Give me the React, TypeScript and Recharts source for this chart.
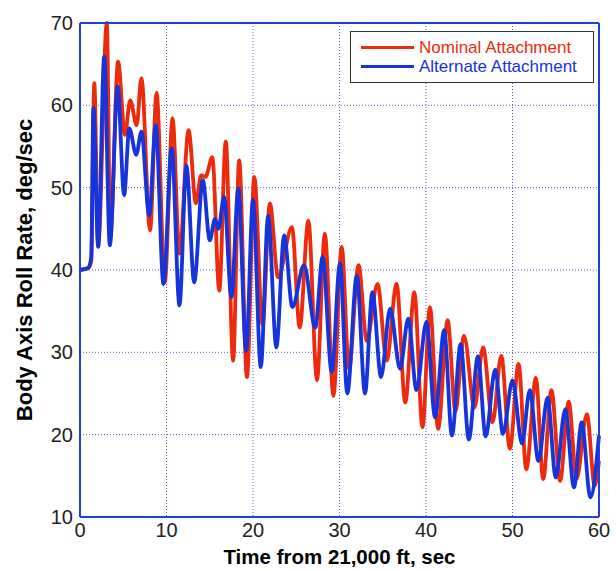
import React from 'react';
import { LineChart, Line, XAxis, YAxis, CartesianGrid, Legend, ReferenceLine } from 'recharts';

// peaks and troughs, time in sec
const nominalTime = [0, 0.9, 1.3, 1.65, 2.1, 3.1, 3.5, 4.4, 5.2, 5.8, 6.55, 7.1, 8.1, 8.85, 9.8, 10.7, 11.5, 12.55, 13.4, 14.0, 14.5, 15.3, 16.1, 16.85, 17.7, 18.4, 19.3, 20.15, 21.1, 21.95, 22.9, 24.5, 25.4, 26.4, 27.4, 28.3, 29.3, 30.25, 31.1, 32.2, 33.15, 34.4, 35.45, 36.6, 37.6, 38.65, 39.6, 40.45, 41.4, 42.5, 43.4, 44.4, 45.6, 46.6, 47.7, 48.7, 49.7, 50.7, 51.6, 52.7, 53.55, 54.5, 55.5, 56.5, 57.4, 58.6, 59.5, 60];
const nominalRate = [40, 40.2, 41, 62.7, 43, 70, 43.9, 65.3, 56.4, 60.6, 57.6, 63.3, 44.8, 61.5, 38.5, 58.4, 42, 57, 48.1, 51.5, 51.3, 53.7, 37.5, 55.6, 29, 53.3, 27, 51.3, 33.3, 48.1, 39.1, 45.2, 33, 46, 26.6, 44.4, 24.7, 42.8, 28, 40.6, 31.4, 38.3, 29, 38.3, 23.9, 37.3, 20.9, 35.5, 20.7, 33.9, 22.9, 32, 23.3, 30.6, 21.5, 29.6, 18.3, 28.6, 15.8, 26.9, 14.6, 25.4, 14.4, 24, 14.6, 22.5, 13.8, 16.8];

const alternateTime = [0, 0.9, 1.3, 1.55, 2.1, 2.8, 3.45, 4.35, 5.1, 5.7, 6.5, 7.1, 8.0, 8.75, 9.65, 10.6, 11.5, 12.3, 13.2, 14.2, 15.0, 15.6, 16.0, 16.65, 17.5, 18.3, 19.2, 20.0, 20.9, 21.75, 22.7, 23.6, 24.55, 25.9, 27.2, 28.05, 29.1, 30.05, 30.9, 32.0, 32.95, 33.8, 34.8, 35.85, 37.0, 37.95, 38.9, 40.05, 41.05, 42.1, 43.0, 44.0, 44.95, 46.0, 46.9, 48.0, 48.9, 50.0, 51.1, 52.0, 53.0, 54.05, 55.0, 56.1, 57.1, 58.0, 59.0, 60];
const alternateRate = [40, 40.2, 41.5, 59.7, 42.8, 65.9, 43, 62.3, 49.1, 57.2, 54, 56.8, 46.6, 57.6, 38.3, 54.8, 35.7, 52.7, 38.5, 50.9, 43.6, 46.2, 45, 48.9, 36.7, 49.9, 30.2, 48.5, 28.2, 46.6, 30.6, 44.2, 35.5, 40.6, 33, 41.6, 27.6, 40.8, 25, 39.3, 25, 37.3, 27, 35.3, 28, 34.1, 25.4, 33.7, 22.1, 32.7, 19.9, 31, 19.4, 29.5, 19.8, 27.9, 20.1, 26.6, 18.9, 25.4, 16.8, 24.5, 14.8, 23.1, 13.6, 21.5, 12.4, 19.9];

const seriesNames = ['Nominal Attachment', 'Alternate Attachment'];
const xTicks = [0, 10, 20, 30, 40, 50, 60];
const yTicks = [10, 20, 30, 40, 50, 60, 70];

const nominal = nominalTime.map((t, i) => ({ t, rate: nominalRate[i] }));
const alternate = alternateTime.map((t, i) => ({ t, rate: alternateRate[i] }));

const RED = '#ee2a0c';
const BLUE = '#1634dc';
const FRAME = '#1f3fe0';
const FONT = 'Arial, "Liberation Sans", Helvetica, sans-serif';

const renderLegend = (props: any) => {
  const items = seriesNames
    .map((n) => (props.payload || []).find((p: any) => p.value === n))
    .filter(Boolean);
  return (
    <div style={{
      border: '1px solid #333',
      background: '#fff',
      padding: '6px 0 6px 10px',
      fontFamily: FONT,
      fontSize: 17,
      lineHeight: '19px',
      boxSizing: 'border-box',
      width: 244,
    }}>
      {items.map((entry: any) => (
        <div key={entry.value} style={{ display: 'flex', alignItems: 'center', color: entry.color }}>
          <span style={{ display: 'inline-block', width: 53, height: 3, background: entry.color, marginRight: 5 }} />
          {entry.value}
        </div>
      ))}
    </div>
  );
};

export default function App() {
  return (
    <div style={{ position: 'absolute', left: 0, top: 0, background: '#fff' }}>
      <LineChart width={616} height={571} margin={{ top: 23, right: 17, bottom: 0, left: 0 }}>
        <CartesianGrid stroke="#5a5af0" strokeDasharray="1 2" strokeWidth={1} />
        <XAxis
          type="number"
          dataKey="t"
          domain={[0, 60]}
          ticks={xTicks}
          height={54}
          axisLine={false}
          tickLine={false}
          tickSize={0}
          tickMargin={6}
          tick={{ fill: '#222', fontSize: 20, fontFamily: FONT }}
          label={{ value: 'Time from 21,000 ft, sec', position: 'center', dy: 13, fill: '#000', fontSize: 20.5, fontWeight: 'bold', fontFamily: FONT }}
        />
        <YAxis
          type="number"
          domain={[10, 70]}
          ticks={yTicks}
          width={80}
          axisLine={false}
          tickLine={false}
          tickSize={0}
          tickMargin={7}
          tick={{ fill: '#222', fontSize: 20, fontFamily: FONT }}
          label={{ value: 'Body Axis Roll Rate, deg/sec', angle: -90, position: 'center', dx: -16, fill: '#000', fontSize: 22, fontWeight: 'bold', fontFamily: FONT }}
        />
        <Line data={nominal} dataKey="rate" name={seriesNames[0]} type="monotone" stroke={RED} strokeWidth={3.8} dot={false} isAnimationActive={false} />
        <Line data={alternate} dataKey="rate" name={seriesNames[1]} type="monotone" stroke={BLUE} strokeWidth={3.8} dot={false} isAnimationActive={false} />
        {/* plot frame */}
        <ReferenceLine x={0} stroke={FRAME} strokeWidth={2} ifOverflow="visible" />
        <ReferenceLine x={60} stroke={FRAME} strokeWidth={2} ifOverflow="visible" />
        <ReferenceLine y={10} stroke={FRAME} strokeWidth={2} ifOverflow="visible" />
        <ReferenceLine y={70} stroke={FRAME} strokeWidth={2} ifOverflow="visible" />
        <Legend layout="vertical" verticalAlign="middle" align="center" content={renderLegend} wrapperStyle={{ top: 31, left: 350, width: 244 }} />
      </LineChart>
    </div>
  );
}
